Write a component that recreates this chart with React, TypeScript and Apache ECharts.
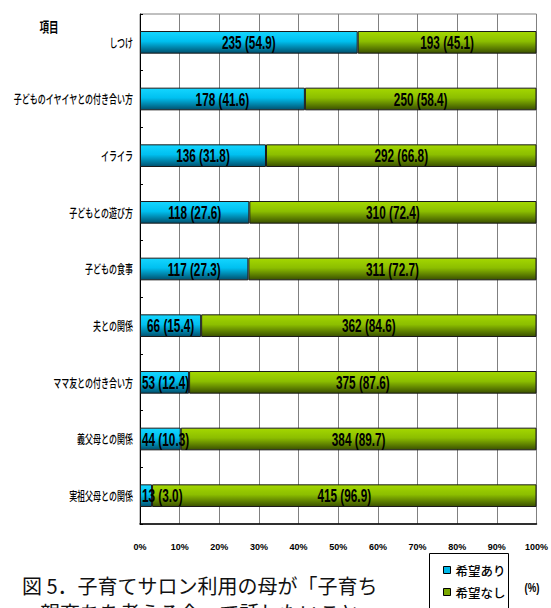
import React, { useEffect, useRef } from "react";
import * as echarts from "echarts";

// Topics the mothers would like to talk about, with counts and shares
const categories = [
  "しつけ",
  "子どものイヤイヤとの付き合い方",
  "イライラ",
  "子どもとの遊び方",
  "子どもの食事",
  "夫との関係",
  "ママ友との付き合い方",
  "義父母との関係",
  "実祖父母との関係",
];
const yesCounts = [235, 178, 136, 118, 117, 66, 53, 44, 13];
const yesPct = [54.9, 41.6, 31.8, 27.6, 27.3, 15.4, 12.4, 10.3, 3.0];
const noCounts = [193, 250, 292, 310, 311, 362, 375, 384, 415];
const noPct = [45.1, 58.4, 66.8, 72.4, 72.7, 84.6, 87.6, 89.7, 96.9];
const seriesNames = ["希望あり", "希望なし"];

const CJK = "'Noto Sans CJK JP', 'Noto Sans', sans-serif";
const LATIN = "'Liberation Sans', Arial, sans-serif";

// 100% stacked: each bar segment is its count's share of the row total
const share = (counts: number[]) =>
  counts.map((c, i) => (c / (yesCounts[i] + noCounts[i])) * 100);
const yesShare = share(yesCounts);
const noShare = share(noCounts);

// label spans [start, end, row, segment] along the stacked bars
const labelSpans = categories.flatMap((_, i) => [
  [0, yesShare[i], i, 0],
  [yesShare[i], yesShare[i] + noShare[i], i, 1],
]);
const labelText = (row: number, seg: number) =>
  seg === 0
    ? `${yesCounts[row]} (${yesPct[row].toFixed(1)})`
    : `${noCounts[row]} (${noPct[row].toFixed(1)})`;

const blueFill = new echarts.graphic.LinearGradient(0, 0, 0, 1, [
  { offset: 0, color: "#14d6ff" },
  { offset: 0.45, color: "#00c0f0" },
  { offset: 1, color: "#00506e" },
]);
const greenFill = new echarts.graphic.LinearGradient(0, 0, 0, 1, [
  { offset: 0, color: "#a4d800" },
  { offset: 0.45, color: "#8cbe00" },
  { offset: 1, color: "#3a5000" },
]);

const option: any = {
  animation: false,
  backgroundColor: "#fff",
  grid: {
    left: 140,
    right: 14,
    top: 14,
    bottom: 84,
    show: true,
    borderColor: "#808080",
    borderWidth: 1,
  },
  xAxis: {
    type: "value",
    min: 0,
    max: 100,
    interval: 10,
    axisLine: { show: true, lineStyle: { color: "#000", width: 1.5 } },
    axisTick: { show: false },
    splitLine: { show: true, lineStyle: { color: "#808080", width: 1 } },
    axisLabel: {
      formatter: "{value}%",
      margin: 18,
      color: "#000",
      fontFamily: LATIN,
      fontWeight: "bold",
      fontSize: 9,
    },
  },
  yAxis: {
    type: "category",
    inverse: true,
    data: categories,
    axisLine: { show: true, lineStyle: { color: "#000", width: 1 } },
    axisTick: { show: true, inside: true, length: 3, lineStyle: { color: "#000" } },
    axisLabel: { show: false },
    splitLine: { show: false },
  },
  legend: {
    orient: "vertical",
    left: 429,
    top: 553,
    padding: [10, 4, 0, 14],
    itemWidth: 7,
    itemHeight: 7,
    itemGap: 8,
    icon: "rect",
    textStyle: { fontFamily: CJK, fontSize: 12.5, fontWeight: 500, color: "#000", lineHeight: 14 },
    data: [
      { name: seriesNames[0], itemStyle: { color: "#00b8e8", borderColor: "#000", borderWidth: 1 } },
      { name: seriesNames[1], itemStyle: { color: "#7aa800", borderColor: "#000", borderWidth: 1 } },
    ],
  },
  series: [
    {
      name: seriesNames[0],
      type: "bar",
      stack: "total",
      barWidth: "40%",
      data: yesShare,
      itemStyle: { color: blueFill, borderColor: "#1a1a1a", borderWidth: 1 },
    },
    {
      name: seriesNames[1],
      type: "bar",
      stack: "total",
      barWidth: "40%",
      data: noShare,
      itemStyle: { color: greenFill, borderColor: "#1a1a1a", borderWidth: 1 },
    },
    {
      // condensed value labels: centred on each segment, or started at the
      // segment's left edge when the segment is too short for the text
      name: "valueLabels",
      type: "custom",
      silent: true,
      clip: false,
      z: 5,
      data: labelSpans,
      encode: { x: [0, 1], y: 2 },
      renderItem: (params: any, api: any) => {
        const row = api.value(2);
        const a = api.coord([api.value(0), row]);
        const b = api.coord([api.value(1), row]);
        const narrow = b[0] - a[0] < 56;
        return {
          type: "text",
          x: narrow ? a[0] + 2 : (a[0] + b[0]) / 2,
          y: a[1],
          scaleX: 0.62,
          style: {
            text: labelText(row, api.value(3)),
            fontFamily: LATIN,
            fontWeight: "bold",
            fontSize: 19,
            fill: "#000",
            align: narrow ? "left" : "center",
            verticalAlign: "middle",
          },
        };
      },
    },
    {
      // condensed category labels placed by the category axis
      name: "categoryLabels",
      type: "custom",
      silent: true,
      clip: false,
      data: categories.map((_, i) => [0, i]),
      encode: { x: 0, y: 1 },
      renderItem: (params: any, api: any) => {
        const p = api.coord([0, api.value(1)]);
        return {
          type: "text",
          x: p[0] - 7,
          y: p[1],
          scaleX: 0.64,
          style: {
            text: categories[params.dataIndex],
            fontFamily: CJK,
            fontWeight: 500,
            fontSize: 12.5,
            fill: "#000",
            align: "right",
            verticalAlign: "middle",
          },
        };
      },
    },
  ],
  graphic: [
    {
      type: "rect",
      shape: { x: 429.5, y: 553.5, width: 79, height: 70 },
      style: { fill: "#fff", stroke: "#000", lineWidth: 1 },
    },
    {
      type: "text",
      x: 49,
      y: 26,
      scaleX: 0.68,
      style: {
        text: "項目",
        fontFamily: CJK,
        fontWeight: "bold",
        fontSize: 14,
        fill: "#000",
        align: "center",
        verticalAlign: "middle",
      },
    },
    {
      type: "text",
      x: 532,
      y: 588,
      scaleX: 0.8,
      style: {
        text: "(%)",
        fontFamily: LATIN,
        fontWeight: "bold",
        fontSize: 12,
        fill: "#000",
        align: "center",
        verticalAlign: "middle",
      },
    },
    {
      type: "text",
      x: 22,
      y: 585,
      style: {
        text: "図 5．子育てサロン利用の母が「子育ち",
        fontFamily: CJK,
        fontSize: 20,
        fill: "#111",
        verticalAlign: "middle",
      },
    },
    {
      type: "text",
      x: 40,
      y: 612,
      style: {
        text: "親育ちを考える会」で話したいこと",
        fontFamily: CJK,
        fontSize: 20,
        fill: "#111",
        verticalAlign: "middle",
      },
    },
  ],
};

export default function App() {
  const ref = useRef<HTMLDivElement>(null);
  useEffect(() => {
    document.body.style.margin = "0";
    const chart = echarts.init(ref.current!, undefined, { renderer: "svg" });
    chart.setOption(option);
    return () => chart.dispose();
  }, []);
  return <div ref={ref} style={{ width: 551, height: 608 }} />;
}
